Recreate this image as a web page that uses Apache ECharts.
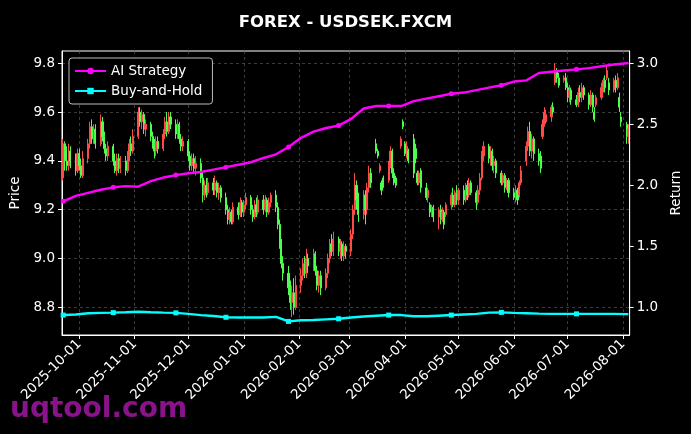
<!DOCTYPE html>
<html>
<head>
<meta charset="utf-8">
<title>FOREX - USDSEK.FXCM</title>
<script src="https://cdn.jsdelivr.net/npm/echarts@6/dist/echarts.min.js"></script>
<style>
  html, body { margin: 0; padding: 0; background: #000; }
  #chart { width: 691px; height: 434px; }
</style>
</head>
<body>
<div id="chart"></div>
<script>
// first trading day of the candles (weekdays follow)
const startDate = '2025-09-22';

// daily candles: [open, close, low, high]
const ohlc = [
  [9.33,9.47,9.32,9.49],[9.47,9.40,9.36,9.48],[9.40,9.38,9.36,9.46],[9.38,9.44,9.36,9.47],[9.44,9.40,9.37,9.46],
  [9.40,9.36,9.34,9.43],[9.36,9.43,9.35,9.45],[9.43,9.38,9.36,9.45],[9.38,9.34,9.33,9.41],[9.34,9.41,9.33,9.44],
  [9.41,9.47,9.39,9.49],[9.47,9.54,9.45,9.56],[9.54,9.49,9.47,9.57],[9.49,9.53,9.47,9.55],[9.53,9.47,9.45,9.55],
  [9.47,9.56,9.46,9.59],[9.56,9.50,9.48,9.58],[9.50,9.45,9.43,9.52],[9.45,9.42,9.40,9.47],[9.42,9.46,9.40,9.48],
  [9.46,9.40,9.38,9.47],[9.40,9.36,9.35,9.43],[9.36,9.41,9.34,9.43],[9.41,9.37,9.35,9.43],[9.37,9.40,9.35,9.42],
  [9.40,9.36,9.34,9.42],[9.36,9.42,9.35,9.44],[9.42,9.47,9.40,9.49],[9.47,9.44,9.42,9.50],[9.44,9.50,9.43,9.53],
  [9.50,9.60,9.49,9.62],[9.60,9.56,9.54,9.62],[9.56,9.59,9.53,9.61],[9.59,9.53,9.51,9.60],[9.53,9.55,9.50,9.57],
  [9.55,9.50,9.48,9.56],[9.50,9.47,9.45,9.52],[9.47,9.44,9.41,9.49],[9.44,9.48,9.42,9.50],[9.48,9.45,9.43,9.50],
  [9.45,9.51,9.44,9.53],[9.51,9.56,9.49,9.58],[9.56,9.52,9.50,9.60],[9.52,9.58,9.51,9.60],[9.58,9.55,9.53,9.60],
  [9.55,9.51,9.49,9.57],[9.51,9.55,9.49,9.57],[9.55,9.49,9.47,9.56],[9.49,9.46,9.44,9.51],[9.46,9.48,9.44,9.50],
  [9.48,9.42,9.40,9.49],[9.42,9.38,9.36,9.44],[9.38,9.41,9.36,9.43],[9.41,9.37,9.35,9.43],[9.37,9.39,9.34,9.42],
  [9.39,9.33,9.31,9.41],[9.33,9.26,9.23,9.35],[9.26,9.30,9.24,9.32],[9.30,9.27,9.25,9.33],[9.27,9.31,9.26,9.33],
  [9.31,9.28,9.26,9.33],[9.28,9.31,9.26,9.34],[9.31,9.27,9.25,9.32],[9.27,9.29,9.24,9.31],[9.29,9.25,9.23,9.30],
  [9.25,9.20,9.18,9.27],[9.20,9.16,9.14,9.22],[9.16,9.19,9.14,9.21],[9.19,9.15,9.14,9.20],[9.15,9.21,9.14,9.23],
  [9.21,9.18,9.16,9.23],[9.18,9.23,9.17,9.25],[9.23,9.19,9.17,9.24],[9.19,9.22,9.17,9.24],[9.22,9.25,9.20,9.27],
  [9.25,9.20,9.18,9.26],[9.20,9.17,9.15,9.22],[9.17,9.22,9.16,9.24],[9.22,9.19,9.17,9.25],[9.19,9.24,9.18,9.26],
  [9.24,9.20,9.18,9.26],[9.20,9.24,9.19,9.26],[9.24,9.19,9.17,9.25],[9.19,9.23,9.18,9.25],[9.23,9.26,9.21,9.27],
  [9.26,9.21,9.19,9.28],[9.21,9.14,9.12,9.23],[9.14,9.06,9.04,9.16],[9.06,8.98,8.96,9.08],[8.98,8.94,8.91,9.01],
  [8.94,8.88,8.85,8.97],[8.88,8.82,8.79,8.91],[8.82,8.86,8.76,8.89],[8.86,8.80,8.77,8.92],[8.80,8.89,8.79,8.93],
  [8.89,8.93,8.86,8.96],[8.93,8.98,8.91,9.00],[8.98,8.94,8.92,9.01],[8.94,9.00,8.92,9.04],[9.00,8.97,8.94,9.02],
  [8.97,9.02,8.95,9.04],[9.02,8.95,8.93,9.03],[8.95,8.89,8.87,8.97],[8.89,8.93,8.86,8.95],[8.93,8.88,8.85,8.95],
  [8.88,8.94,8.87,8.96],[8.94,9.00,8.92,9.02],[9.00,9.06,8.98,9.08],[9.06,9.03,9.01,9.10],[9.03,9.08,9.01,9.11],
  [9.08,9.03,9.01,9.09],[9.03,9.06,9.00,9.08],[9.06,9.01,8.99,9.07],[9.01,9.05,8.99,9.07],[9.05,9.03,9.00,9.06],
  [9.03,9.10,9.01,9.12],[9.10,9.20,9.08,9.22],[9.20,9.30,9.18,9.35],[9.30,9.24,9.20,9.32],[9.24,9.18,9.15,9.27],
  [9.18,9.26,9.16,9.28],[9.26,9.20,9.14,9.28],[9.20,9.29,9.18,9.31],[9.29,9.35,9.27,9.38],[9.35,9.31,9.29,9.37],
  [9.47,9.44,9.43,9.49],[9.44,9.42,9.41,9.45],[9.36,9.38,9.35,9.39],[9.31,9.28,9.26,9.32],[9.33,9.30,9.29,9.34],
  [9.32,9.38,9.31,9.40],[9.38,9.44,9.37,9.46],[9.44,9.35,9.33,9.45],[9.35,9.31,9.30,9.37],[9.33,9.30,9.29,9.34],
  [9.46,9.49,9.45,9.50],[9.56,9.54,9.53,9.57],[9.47,9.43,9.42,9.48],[9.43,9.46,9.41,9.48],[9.44,9.40,9.39,9.45],
  [9.49,9.35,9.33,9.51],[9.45,9.41,9.39,9.47],[9.35,9.31,9.30,9.36],[9.31,9.35,9.30,9.36],[9.36,9.29,9.27,9.37],
  [9.29,9.25,9.24,9.31],[9.25,9.28,9.23,9.29],[9.22,9.19,9.17,9.23],[9.19,9.21,9.17,9.22],[9.21,9.17,9.15,9.22],
  [9.17,9.20,9.12,9.21],[9.20,9.16,9.14,9.22],[9.16,9.19,9.15,9.21],[9.19,9.14,9.12,9.20],[9.18,9.22,9.17,9.23],
  [9.22,9.26,9.20,9.27],[9.26,9.22,9.21,9.29],[9.22,9.27,9.21,9.28],[9.27,9.24,9.22,9.30],[9.24,9.28,9.22,9.29],
  [9.28,9.24,9.22,9.30],[9.24,9.30,9.23,9.31],[9.30,9.26,9.24,9.32],[9.26,9.31,9.25,9.33],[9.31,9.27,9.26,9.32],
  [9.27,9.23,9.20,9.28],[9.23,9.28,9.22,9.30],[9.28,9.33,9.26,9.35],[9.33,9.42,9.32,9.44],[9.42,9.46,9.40,9.48],
  [9.46,9.41,9.39,9.47],[9.41,9.44,9.38,9.46],[9.44,9.38,9.36,9.45],[9.38,9.40,9.35,9.42],[9.40,9.35,9.33,9.41],
  [9.35,9.31,9.30,9.36],[9.31,9.34,9.30,9.35],[9.34,9.29,9.27,9.35],[9.29,9.32,9.28,9.33],[9.32,9.27,9.25,9.33],
  [9.27,9.25,9.24,9.29],[9.25,9.28,9.23,9.30],[9.28,9.24,9.22,9.29],[9.26,9.31,9.25,9.32],[9.31,9.36,9.30,9.38],
  [9.40,9.46,9.38,9.48],[9.46,9.52,9.44,9.54],[9.52,9.44,9.42,9.56],[9.44,9.49,9.41,9.51],[9.49,9.43,9.40,9.50],
  [9.43,9.40,9.38,9.45],[9.42,9.37,9.35,9.44],[9.50,9.55,9.49,9.57],[9.55,9.60,9.54,9.62],[9.56,9.59,9.55,9.61],
  [9.58,9.62,9.56,9.63],[9.62,9.60,9.59,9.64],[9.72,9.77,9.71,9.80],[9.77,9.74,9.72,9.78],[9.74,9.71,9.70,9.76],
  [9.73,9.74,9.72,9.75],[9.74,9.70,9.69,9.76],[9.70,9.66,9.64,9.72],[9.66,9.69,9.64,9.71],[9.69,9.65,9.63,9.70],
  [9.65,9.63,9.62,9.67],[9.63,9.68,9.62,9.70],[9.68,9.66,9.64,9.71],[9.66,9.70,9.64,9.72],[9.70,9.67,9.65,9.71],
  [9.67,9.63,9.61,9.68],[9.63,9.67,9.62,9.69],[9.67,9.62,9.60,9.68],[9.60,9.57,9.56,9.62],[9.63,9.66,9.62,9.67],
  [9.66,9.70,9.65,9.72],[9.70,9.73,9.68,9.74],[9.73,9.70,9.68,9.75],[9.74,9.77,9.73,9.79],[9.72,9.69,9.67,9.74],
  [9.69,9.73,9.68,9.74],[9.73,9.70,9.68,9.75],[9.70,9.74,9.69,9.76],[9.66,9.62,9.60,9.68],[9.58,9.56,9.54,9.60],
  [9.55,9.50,9.47,9.56],[9.50,9.53,9.47,9.55]
];

// weekly samples of the two return curves
const lineDates = [
  '2025-09-22','2025-09-29','2025-10-06','2025-10-13','2025-10-20','2025-10-27','2025-11-03','2025-11-10',
  '2025-11-17','2025-11-24','2025-12-01','2025-12-08','2025-12-15','2025-12-22','2025-12-29','2026-01-05',
  '2026-01-12','2026-01-19','2026-01-26','2026-02-02','2026-02-09','2026-02-16','2026-02-23','2026-03-02',
  '2026-03-09','2026-03-16','2026-03-23','2026-03-30','2026-04-06','2026-04-13','2026-04-20','2026-04-27',
  '2026-05-04','2026-05-11','2026-05-18','2026-05-25','2026-06-01','2026-06-08','2026-06-15','2026-06-22',
  '2026-06-29','2026-07-06','2026-07-13','2026-07-20','2026-07-27','2026-08-03','2026-08-04'
];
const aiReturn = [
  1.87,1.915,1.94,1.965,1.985,1.995,1.99,2.035,2.065,2.085,2.10,2.11,2.13,2.15,2.17,2.19,
  2.225,2.255,2.315,2.39,2.44,2.47,2.49,2.545,2.63,2.65,2.65,2.65,2.69,2.71,2.73,2.75,
  2.76,2.78,2.80,2.82,2.85,2.86,2.92,2.93,2.94,2.95,2.96,2.975,2.99,3.00,3.00
];
const bhReturn = [
  0.94,0.945,0.955,0.958,0.96,0.963,0.967,0.963,0.96,0.958,0.95,0.94,0.932,0.922,0.92,0.92,
  0.92,0.925,0.888,0.898,0.90,0.905,0.91,0.92,0.928,0.935,0.94,0.94,0.93,0.93,0.935,0.94,
  0.945,0.95,0.96,0.962,0.958,0.955,0.952,0.95,0.95,0.95,0.95,0.95,0.95,0.948,0.948
];
// samples that carry a marker
const markerIdx = [0, 4, 9, 13, 18, 22, 26, 31, 35, 41];

const priceTicks = [8.8, 9.0, 9.2, 9.4, 9.6, 9.8];
const returnTicks = [1.0, 1.5, 2.0, 2.5, 3.0];

function tradingDays(start, n) {
  const out = [];
  const d = new Date(start + 'T00:00:00');
  while (out.length < n) {
    const wd = d.getDay();
    if (wd !== 0 && wd !== 6) {
      const m = String(d.getMonth() + 1).padStart(2, '0');
      const dd = String(d.getDate()).padStart(2, '0');
      out.push(d.getFullYear() + '-' + m + '-' + dd);
    }
    d.setDate(d.getDate() + 1);
  }
  return out;
}

const dates = tradingDays(startDate, ohlc.length);
const candleData = ohlc.map((r, i) => [dates[i]].concat(r));

function withMarkers(values, symbol) {
  return values.map((v, i) => {
    const item = { value: [lineDates[i], v] };
    item.symbol = markerIdx.indexOf(i) < 0 ? 'none' : symbol;
    return item;
  });
}

const FONT = 'DejaVu Sans';
const chart = echarts.init(document.getElementById('chart'));
chart.setOption({
  backgroundColor: '#000',
  animation: false,
  title: {
    text: 'FOREX - USDSEK.FXCM',
    left: 'center',
    top: 9,
    textStyle: { color: '#fff', fontFamily: FONT, fontWeight: 'bold', fontSize: 16.5 }
  },
  legend: {
    orient: 'vertical',
    left: 69,
    top: 58,
    padding: [6, 10, 6, 5],
    itemGap: 6,
    itemWidth: 31,
    itemHeight: 8,
    backgroundColor: '#000',
    borderColor: '#bbb',
    borderWidth: 1,
    borderRadius: 3,
    textStyle: { color: '#fff', fontFamily: FONT, fontSize: 13.5 },
    data: ['AI Strategy', 'Buy-and-Hold']
  },
  grid: {
    left: 62, right: 61, top: 51, bottom: 99,
    show: true, borderColor: '#fff', borderWidth: 1, backgroundColor: 'transparent'
  },
  xAxis: {
    type: 'time',
    min: '2025-09-21 08:00',
    max: '2026-08-04 17:00',
    splitNumber: 11,
    minInterval: 28 * 86400000,
    maxInterval: 31 * 86400000,
    axisLine: { lineStyle: { color: '#fff' } },
    axisTick: { length: 4, lineStyle: { color: '#fff' } },
    axisLabel: {
      color: '#fff', fontFamily: FONT, fontSize: 13.5, rotate: 45, margin: 7,
      interval: 0, hideOverlap: false,
      formatter: '{yyyy}-{MM}-{dd}'
    },
    splitLine: { show: true, lineStyle: { color: '#555', type: [3, 3], width: 0.7 } }
  },
  yAxis: [
    {
      type: 'value',
      min: 8.687,
      max: 9.85,
      name: 'Price',
      nameLocation: 'middle',
      nameGap: 31,
      nameTextStyle: { color: '#fff', fontFamily: FONT, fontSize: 13.5 },
      axisLine: { show: true, lineStyle: { color: '#fff' } },
      axisTick: { show: true, length: 4, customValues: priceTicks, lineStyle: { color: '#fff' } },
      axisLabel: {
        color: '#fff', fontFamily: FONT, fontSize: 13.5, margin: 7,
        customValues: priceTicks, formatter: v => v.toFixed(1)
      },
      splitLine: { show: true, lineStyle: { color: '#555', type: [3, 3], width: 0.7 } }
    },
    {
      type: 'value',
      min: 0.777,
      max: 3.10,
      name: 'Return',
      nameLocation: 'middle',
      nameGap: 37,
      nameTextStyle: { color: '#fff', fontFamily: FONT, fontSize: 13.5 },
      axisLine: { show: true, lineStyle: { color: '#fff' } },
      axisTick: { show: true, length: 4, customValues: returnTicks, lineStyle: { color: '#fff' } },
      axisLabel: {
        color: '#fff', fontFamily: FONT, fontSize: 13.5, margin: 7,
        customValues: returnTicks, formatter: v => v.toFixed(1)
      },
      splitLine: { show: false }
    }
  ],
  graphic: [{
    type: 'text',
    left: 10,
    top: 396,
    z: 0,
    style: {
      text: 'uqtool.com',
      fill: '#8a128a',
      font: 'bold 28px "DejaVu Sans"'
    }
  }],
  series: [
    {
      type: 'candlestick',
      name: 'Price',
      yAxisIndex: 0,
      data: candleData,
      encode: { x: 0, y: [1, 2, 3, 4] },
      barWidth: 1.6,
      itemStyle: {
        color: '#ff4a4a', color0: '#4dff4d',
        borderColor: '#ff4a4a', borderColor0: '#4dff4d',
        borderWidth: 1
      }
    },
    {
      type: 'line',
      name: 'AI Strategy',
      yAxisIndex: 1,
      data: withMarkers(aiReturn, 'circle'),
      symbol: 'circle',
      symbolSize: 5,
      lineStyle: { color: '#ff00ff', width: 2.4 },
      itemStyle: { color: '#ff00ff' },
      z: 3
    },
    {
      type: 'line',
      name: 'Buy-and-Hold',
      yAxisIndex: 1,
      data: withMarkers(bhReturn, 'rect'),
      symbol: 'rect',
      symbolSize: 5,
      lineStyle: { color: '#00ffff', width: 2.4 },
      itemStyle: { color: '#00ffff' },
      z: 3
    }
  ]
});
</script>
</body>
</html>
